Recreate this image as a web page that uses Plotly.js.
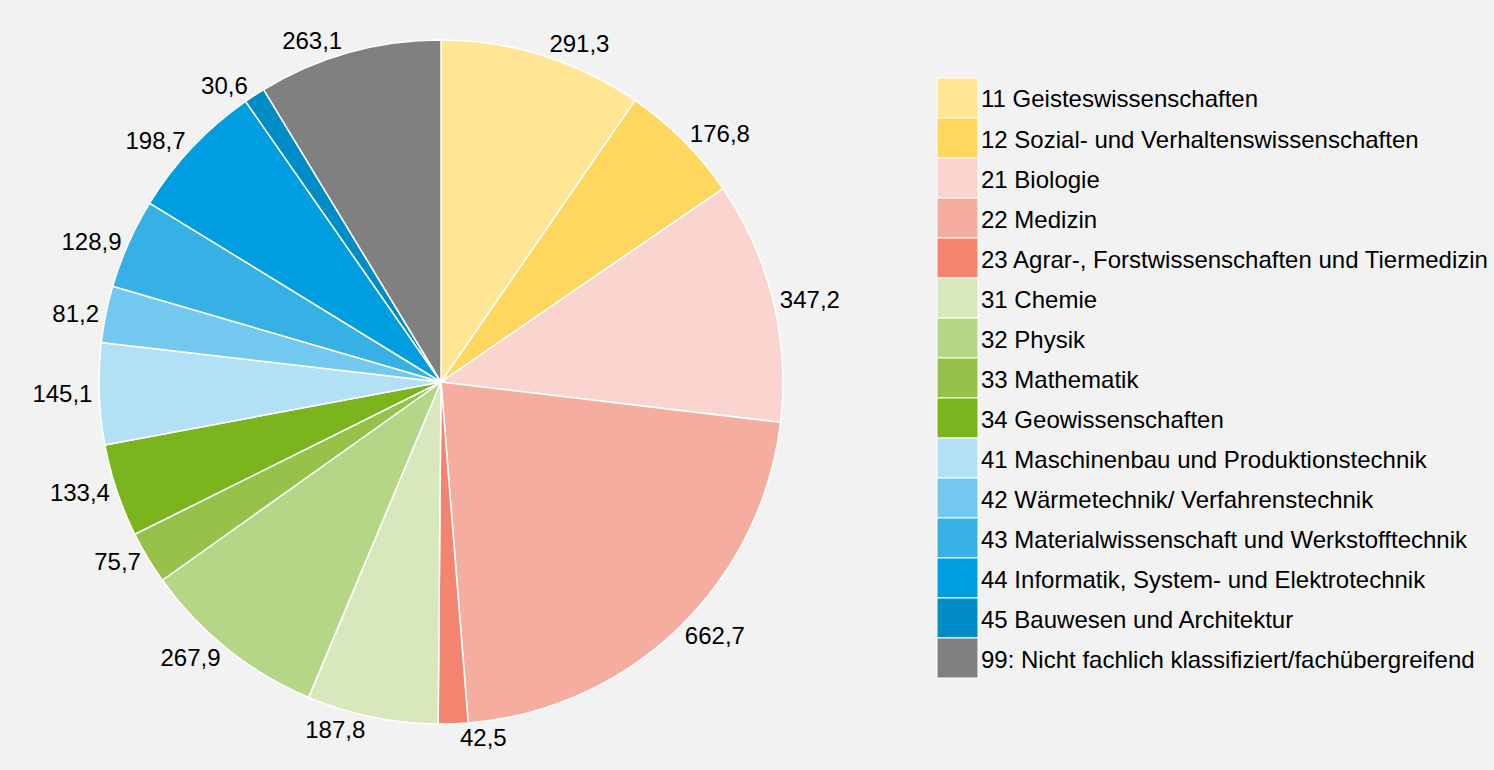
<!DOCTYPE html>
<html>
<head>
<meta charset="utf-8">
<script src="https://cdn.plot.ly/plotly-3.0.1.min.js"></script>
<style>html,body{margin:0;padding:0;background:#f2f2f2;}#chart{width:1494px;height:770px;}</style>
</head>
<body>
<div id="chart"></div>
<script>
const categories = [
  "11 Geisteswissenschaften",
  "12 Sozial- und Verhaltenswissenschaften",
  "21 Biologie",
  "22 Medizin",
  "23 Agrar-, Forstwissenschaften und Tiermedizin",
  "31 Chemie",
  "32 Physik",
  "33 Mathematik",
  "34 Geowissenschaften",
  "41 Maschinenbau und Produktionstechnik",
  "42 Wärmetechnik/ Verfahrenstechnik",
  "43 Materialwissenschaft und Werkstofftechnik",
  "44 Informatik, System- und Elektrotechnik",
  "45 Bauwesen und Architektur",
  "99: Nicht fachlich klassifiziert/fachübergreifend"
];
const values = [291.3, 176.8, 347.2, 662.7, 42.5, 187.8, 267.9, 75.7, 133.4, 145.1, 81.2, 128.9, 198.7, 30.6, 263.1];
const colors = ["#FFE594", "#FFD75E", "#FAD5CF", "#F5ADA0", "#F28470", "#D8E8BC", "#B5D686", "#97C24A", "#7AB51E", "#B2E1F5", "#72C8EE", "#36B0E5", "#009EE0", "#008CC6", "#808080"];

const W = 1494, H = 770;
const FONT = 'Liberation Sans, Arial, sans-serif';
const labelsText = values.map(v => v.toFixed(1).replace('.', ','));

const trace = {
  type: 'pie',
  labels: categories,
  values: values,
  text: labelsText,
  textinfo: 'text',
  textposition: 'outside',
  sort: false,
  direction: 'clockwise',
  rotation: 0,
  marker: {colors: colors, line: {color: '#ffffff', width: 1.5}},
  outsidetextfont: {family: FONT, size: 24, color: '#000000'},
  domain: {x: [99 / W, 783 / W], y: [46 / H, 730 / H]},
  hoverinfo: 'label+text'
};

const shapes = [];
const annotations = [];
const legX0 = 937, legX1 = 978, legY0 = 78, legStep = 40;
categories.forEach((c, i) => {
  const top = legY0 + i * legStep;
  shapes.push({
    type: 'rect', xref: 'paper', yref: 'paper',
    x0: legX0 / W, x1: legX1 / W,
    y0: 1 - (top + legStep) / H, y1: 1 - top / H,
    fillcolor: colors[i], line: {color: '#ffffff', width: 1}
  });
  annotations.push({
    xref: 'paper', yref: 'paper',
    x: 979 / W, y: 1 - (top + legStep / 2 + 1) / H,
    xanchor: 'left', yanchor: 'middle',
    text: c, showarrow: false,
    font: {family: FONT, size: 24, color: '#000000'}
  });
});

const layout = {
  width: W, height: H,
  margin: {l: 0, r: 0, t: 0, b: 0},
  paper_bgcolor: '#f2f2f2',
  plot_bgcolor: '#f2f2f2',
  showlegend: false,
  shapes: shapes,
  annotations: annotations,
  font: {family: FONT, size: 24, color: '#000000'}
};

Plotly.newPlot('chart', [trace], layout, {displayModeBar: false, responsive: false});
</script>
</body>
</html>
